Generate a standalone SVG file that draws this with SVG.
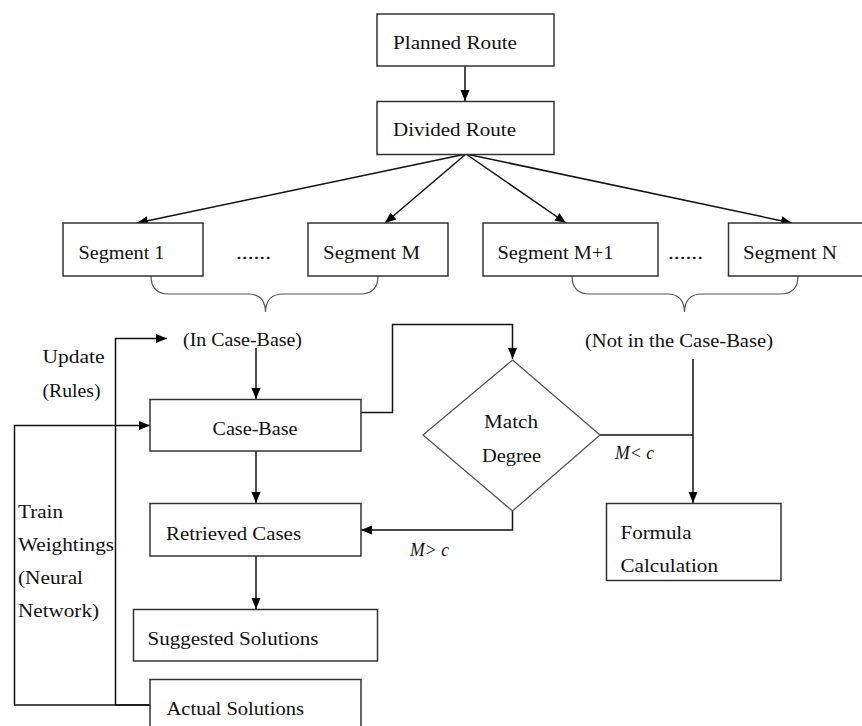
<svg xmlns="http://www.w3.org/2000/svg" width="862" height="726" viewBox="0 0 862 726">
<style>
.box{fill:#fff;stroke:#333;stroke-width:1.5}
.dia{fill:#fff;stroke:#555;stroke-width:1.3}
.t{font-family:"Liberation Serif","Times New Roman",serif;font-size:19px;fill:#111}
.i{font-style:italic}
.c{fill:none;stroke:#111;stroke-width:1.5}
.br{fill:none;stroke:#555;stroke-width:1.2}
</style>
<defs>
<marker id="a" markerUnits="userSpaceOnUse" markerWidth="12" markerHeight="10" refX="11" refY="5" orient="auto">
<path d="M0,0.5 L11,5 L0,9.5 z" fill="#000"/>
</marker>
</defs>
<rect width="862" height="726" fill="#fff"/>
<g id="connectors">
<path class="c" d="M465,66 V101" marker-end="url(#a)"/>
<path class="c" d="M466,154 L137,223" marker-end="url(#a)"/>
<path class="c" d="M466,154 L385,223" marker-end="url(#a)"/>
<path class="c" d="M466,154 L566,223" marker-end="url(#a)"/>
<path class="c" d="M466,154 L792,223" marker-end="url(#a)"/>
<path class="c" d="M150,705 H115.5 V338.5 H167" marker-end="url(#a)"/>
<path class="c" d="M256,348 V399" marker-end="url(#a)"/>
<path class="c" d="M150,705 H14.5 V425.5 H150" marker-end="url(#a)"/>
<path class="c" d="M361,412.5 H392.5 V324.5 H512.5 V359" marker-end="url(#a)"/>
<path class="c" d="M600,435 H693"/>
<path class="c" d="M693,359 V503" marker-end="url(#a)"/>
<path class="c" d="M512.5,511 V530 H361" marker-end="url(#a)"/>
<path class="c" d="M256,451 V503" marker-end="url(#a)"/>
<path class="c" d="M256,556 V609" marker-end="url(#a)"/>
<path class="br" d="M151,276 Q151,294 169,294 L248,294 Q265,294 265.5,312 Q266,294 283,294 L360,294 Q378,294 378,276"/>
<path class="br" d="M572,276 Q572,294 590,294 L667,294 Q684,294 684.5,312 Q685,294 702,294 L780,294 Q798,294 798,276"/>
</g>
<g id="planned-route"><rect class="box" x="377" y="14" width="177" height="52"/><text class="t" x="393" y="49" textLength="124" lengthAdjust="spacingAndGlyphs">Planned Route</text></g>
<g id="divided-route"><rect class="box" x="377" y="101.5" width="177" height="53"/><text class="t" x="393" y="136" textLength="123" lengthAdjust="spacingAndGlyphs">Divided Route</text></g>
<g id="segment-1"><rect class="box" x="63" y="223" width="140" height="53"/><text class="t" x="78.5" y="259" textLength="86" lengthAdjust="spacingAndGlyphs">Segment 1</text></g>
<g id="dots-1"><text class="t" x="236" y="259" textLength="35" lengthAdjust="spacingAndGlyphs">......</text></g>
<g id="segment-m"><rect class="box" x="308" y="223" width="140" height="53"/><text class="t" x="323" y="259" textLength="97" lengthAdjust="spacingAndGlyphs">Segment M</text></g>
<g id="segment-m1"><rect class="box" x="483" y="223" width="175" height="53"/><text class="t" x="497.5" y="259" textLength="116" lengthAdjust="spacingAndGlyphs">Segment M+1</text></g>
<g id="dots-2"><text class="t" x="668" y="259" textLength="35" lengthAdjust="spacingAndGlyphs">......</text></g>
<g id="segment-n"><rect class="box" x="728.5" y="223" width="140" height="53"/><text class="t" x="743" y="259" textLength="94" lengthAdjust="spacingAndGlyphs">Segment N</text></g>
<g id="in-case-base"><text class="t" x="183" y="346" textLength="119" lengthAdjust="spacingAndGlyphs">(In Case-Base)</text></g>
<g id="not-in-case-base"><text class="t" x="585" y="346.5" textLength="188" lengthAdjust="spacingAndGlyphs">(Not in the Case-Base)</text></g>
<g id="update-label"><text class="t" x="42.5" y="362.5" textLength="62" lengthAdjust="spacingAndGlyphs">Update</text><text class="t" x="42.5" y="396.5" textLength="58" lengthAdjust="spacingAndGlyphs">(Rules)</text></g>
<g id="train-label"><text class="t" x="18" y="518" textLength="45" lengthAdjust="spacingAndGlyphs">Train</text><text class="t" x="18" y="550.5" textLength="96" lengthAdjust="spacingAndGlyphs">Weightings</text><text class="t" x="18" y="584" textLength="65" lengthAdjust="spacingAndGlyphs">(Neural</text><text class="t" x="18" y="617" textLength="81" lengthAdjust="spacingAndGlyphs">Network)</text></g>
<g id="case-base"><rect class="box" x="150" y="399.5" width="211" height="51.5"/><text class="t" x="212.5" y="435" textLength="85" lengthAdjust="spacingAndGlyphs">Case-Base</text></g>
<g id="match-degree"><path class="dia" d="M512.5,360 L600,435 L512.5,511 L423,435 z"/><text class="t" x="484" y="428" textLength="54" lengthAdjust="spacingAndGlyphs">Match</text><text class="t" x="482" y="461.5" textLength="59" lengthAdjust="spacingAndGlyphs">Degree</text></g>
<g id="m-less-c"><text class="t i" x="615" y="459" textLength="39" lengthAdjust="spacingAndGlyphs">M&lt; c</text></g>
<g id="m-greater-c"><text class="t i" x="410" y="556" textLength="39" lengthAdjust="spacingAndGlyphs">M&gt; c</text></g>
<g id="formula-calculation"><rect class="box" x="606.5" y="503.5" width="174.5" height="77"/><text class="t" x="620.5" y="539" textLength="71" lengthAdjust="spacingAndGlyphs">Formula</text><text class="t" x="620.5" y="571.5" textLength="97.5" lengthAdjust="spacingAndGlyphs">Calculation</text></g>
<g id="retrieved-cases"><rect class="box" x="150" y="503.5" width="211" height="52.5"/><text class="t" x="166" y="540" textLength="135" lengthAdjust="spacingAndGlyphs">Retrieved Cases</text></g>
<g id="suggested-solutions"><rect class="box" x="133.5" y="609.5" width="244" height="51.5"/><text class="t" x="147.5" y="645" textLength="171" lengthAdjust="spacingAndGlyphs">Suggested Solutions</text></g>
<g id="actual-solutions"><rect class="box" x="150" y="679.5" width="211" height="60"/><text class="t" x="166.5" y="715" textLength="137.5" lengthAdjust="spacingAndGlyphs">Actual Solutions</text></g>
</svg>
